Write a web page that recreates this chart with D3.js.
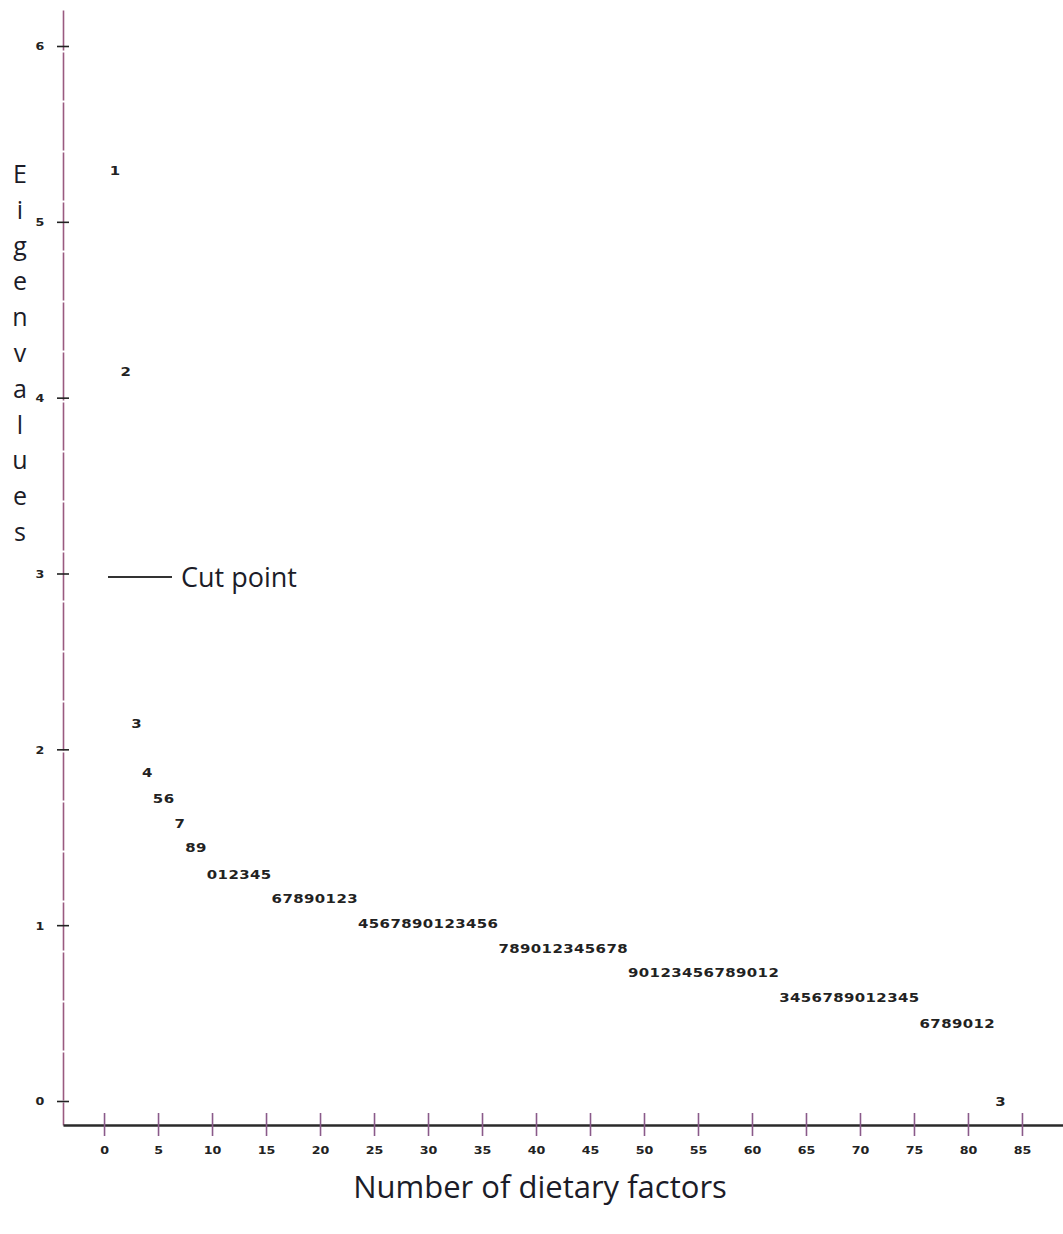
<!DOCTYPE html>
<html>
<head>
<meta charset="utf-8">
<script src="https://cdn.jsdelivr.net/npm/d3@7"></script>
<style>
  body { margin: 0; background: #fff; }
  .num { font-family: "DejaVu Sans", sans-serif; font-weight: bold; font-size: 11px; fill: #222; }
  .title { font-family: "Open Sans", sans-serif; fill: #1c1c28; }
</style>
</head>
<body>
<svg width="1063" height="1234"></svg>
<script>
// scree plot, each point drawn as the last digit of its factor number

var eigenvalues = [
  5.29, 4.15, 2.15, 1.87, 1.72, 1.72, 1.58, 1.44, 1.44,
  1.29, 1.29, 1.29, 1.29, 1.29, 1.29,
  1.15, 1.15, 1.15, 1.15, 1.15, 1.15, 1.15, 1.15,
  1.01, 1.01, 1.01, 1.01, 1.01, 1.01, 1.01, 1.01, 1.01, 1.01, 1.01, 1.01, 1.01,
  0.87, 0.87, 0.87, 0.87, 0.87, 0.87, 0.87, 0.87, 0.87, 0.87, 0.87, 0.87,
  0.73, 0.73, 0.73, 0.73, 0.73, 0.73, 0.73, 0.73, 0.73, 0.73, 0.73, 0.73, 0.73, 0.73,
  0.59, 0.59, 0.59, 0.59, 0.59, 0.59, 0.59, 0.59, 0.59, 0.59, 0.59, 0.59, 0.59,
  0.44, 0.44, 0.44, 0.44, 0.44, 0.44, 0.44,
  0.00
];
var factors = d3.range(1, eigenvalues.length + 1);
var xTicks = [0, 5, 10, 15, 20, 25, 30, 35, 40, 45, 50, 55, 60, 65, 70, 75, 80, 85];
var yTicks = [0, 1, 2, 3, 4, 5, 6];
var cutPoint = 2.98;
var yTitle = "Eigenvalues";
var xTitle = "Number of dietary factors";

var svg = d3.select("svg");

var x = d3.scaleLinear().domain([-3.8, 88.8]).range([63, 1063]);
var y = d3.scaleLinear().domain([-0.1365, 6.2047]).range([1125, 10]);

var axisPink = "#9a5a80";
var wide = 1.15; // digits in the original are wider than DejaVu

// y axis
var gy = svg.append("g")
    .attr("transform", "translate(" + x(-3.8) + ",0)")
    .call(d3.axisLeft(y).tickValues(yTicks).tickFormat(d3.format("d"))
      .tickSize(6).tickSizeOuter(0));

gy.select(".domain")
    .attr("stroke", axisPink)
    .attr("stroke-width", 1.6)
    .attr("stroke-dasharray", "48 2")
    .attr("stroke-dashoffset", 25);

gy.selectAll(".tick line")
    .attr("x1", -6).attr("x2", 6)
    .attr("stroke", "#222").attr("stroke-width", 1.6);

gy.selectAll(".tick text")
    .attr("class", "num")
    .attr("x", -23 / wide)
    .attr("dy", "0.35em")
    .attr("transform", "scale(" + wide + ",1)")
    .attr("text-anchor", "middle");

// x axis
var gx = svg.append("g")
    .attr("transform", "translate(0," + y(-0.1365) + ")")
    .call(d3.axisBottom(x).tickValues(xTicks).tickSize(11).tickSizeOuter(0));

gx.select(".domain")
    .attr("stroke", "#2a2a2a")
    .attr("stroke-width", 2.6);

gx.selectAll(".tick line")
    .attr("y1", -12).attr("y2", 11)
    .attr("stroke", "#8a5a8a").attr("stroke-width", 1.6);

gx.selectAll(".tick text")
    .attr("class", "num")
    .attr("y", 25)
    .attr("dy", "0.35em")
    .attr("transform", "scale(" + wide + ",1)");

// points as digits
svg.append("g")
  .selectAll("text")
  .data(factors)
  .enter().append("text")
    .attr("class", "num")
    .style("font-size", "13px")
    .attr("text-anchor", "middle")
    .attr("transform", function(d, i) {
      return "translate(" + x(d) + "," + y(eigenvalues[i]) + ") scale(" + wide + ",1)";
    })
    .attr("dy", "0.35em")
    .text(function(d) { return String(d % 10); });

// cut point legend
svg.append("line")
    .attr("x1", 108).attr("x2", 172)
    .attr("y1", y(cutPoint)).attr("y2", y(cutPoint))
    .attr("stroke", "#333").attr("stroke-width", 2);

svg.append("text")
    .attr("class", "title")
    .attr("x", 181)
    .attr("y", y(cutPoint))
    .attr("dy", "0.36em")
    .style("font-size", "27px")
    .text("Cut point");

// y title, one letter under another
svg.append("g")
  .selectAll("text")
  .data(yTitle.split(""))
  .enter().append("text")
    .attr("class", "title")
    .attr("text-anchor", "middle")
    .attr("x", 20)
    .attr("y", function(d, i) { return 183 + i * 35.8; })
    .style("font-size", "25px")
    .text(function(d) { return d; });

svg.append("text")
    .attr("class", "title")
    .attr("text-anchor", "middle")
    .attr("x", 540)
    .attr("y", 1198)
    .style("font-size", "31px")
    .text(xTitle);
</script>
</body>
</html>
